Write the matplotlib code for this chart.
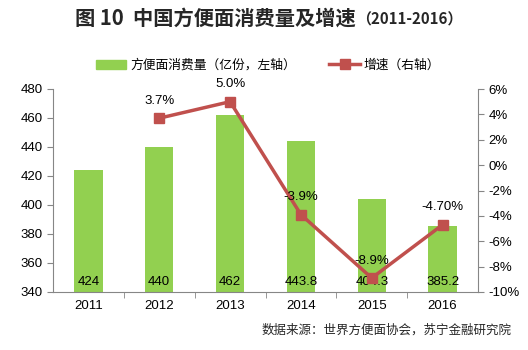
import matplotlib
matplotlib.use("Agg")
import matplotlib.pyplot as plt
from matplotlib.lines import Line2D
from matplotlib.patches import Patch

plt.rcParams['font.family'] = ['Noto Sans CJK SC', 'DejaVu Sans']

years = ["2011", "2012", "2013", "2014", "2015", "2016"]
consumption = [424, 440, 462, 443.8, 404.3, 385.2]
consumption_labels = ["424", "440", "462", "443.8", "404.3", "385.2"]
growth_years = ["2012", "2013", "2014", "2015", "2016"]
growth = [3.7, 5.0, -3.9, -8.9, -4.7]
growth_labels = ["3.7%", "5.0%", "-3.9%", "-8.9%", "-4.70%"]

green = "#92D050"
red = "#C0504D"
axcol = "#868686"

fig = plt.figure(figsize=(5.28, 3.5), dpi=100)
ax = fig.add_axes([53/528, 1-292/350, (478-53)/528, (292-89)/350])
x = list(range(len(years)))
ax.bar(x, [c - 340 for c in consumption], bottom=340, width=0.4, color=green, zorder=1)
ax.set_xlim(-0.5, len(years)-0.5)
ax.set_ylim(340, 480)
ax.set_yticks(range(340, 481, 20))
ax.set_xticks(x)
ax.set_xticklabels(years, fontsize=9.5, family=['Liberation Sans', 'DejaVu Sans'])
ax.tick_params(axis='y', labelsize=9.5, colors='#000000', length=4, color=axcol, direction='out')
for lab in ax.get_yticklabels():
    lab.set_family(['Liberation Sans', 'DejaVu Sans'])
ax.set_xticks([i + 0.5 for i in x[:-1]], minor=True)
ax.tick_params(axis='x', which='major', length=0, pad=6)
ax.tick_params(axis='x', which='minor', length=4, color=axcol, direction='out')
for s in ['top', 'right']:
    ax.spines[s].set_visible(False)
for s in ['left', 'bottom']:
    ax.spines[s].set_color(axcol)

for i, lab in enumerate(consumption_labels):
    ax.text(i, 343, lab, ha='center', va='bottom', fontsize=9.5,
            family=['Liberation Sans', 'DejaVu Sans'], zorder=5)

ax2 = ax.twinx()
gx = [years.index(y) for y in growth_years]
ax2.plot(gx, growth, color=red, lw=2.5, marker='s', markersize=7.5, zorder=3)
ax2.set_ylim(-10, 6)
ax2.set_yticks(range(-10, 7, 2))
ax2.set_yticklabels([f"{v}%" for v in range(-10, 7, 2)], family=['Liberation Sans', 'DejaVu Sans'])
ax2.tick_params(axis='y', labelsize=9.5, length=4, color=axcol, direction='out')
for s in ['top', 'left', 'bottom']:
    ax2.spines[s].set_visible(False)
ax2.spines['right'].set_color(axcol)
for xi, v, lab in zip(gx, growth, growth_labels):
    ax2.text(xi, v + 0.9, lab, ha='center', va='bottom', fontsize=9.5,
             family=['Liberation Sans', 'DejaVu Sans'], zorder=6)

# title
fig.text(356/528, 1-18/350, "图 10  中国方便面消费量及增速", ha='right', va='center',
         fontsize=14.6, fontweight='bold', color='#262626')
fig.text(356/528, 1-19/350, "（2011-2016）", ha='left', va='center',
         fontsize=10.8, fontweight='bold', color='#262626')

# legend
handles = [Patch(color=green), Line2D([0], [0], color=red, lw=2.5, marker='s', markersize=7.5)]
fig.legend(handles, ["方便面消费量（亿份，左轴）", "增速（右轴）"], loc='center',
           bbox_to_anchor=(268/528, 1-65/350), ncol=2, frameon=False, fontsize=9.2,
           handlelength=2.4, columnspacing=2.6, handletextpad=0.3)

fig.text(512/528, 1-330/350, "数据来源：世界方便面协会，苏宁金融研究院", ha='right', va='center',
         fontsize=9, style='italic', color='#262626')

fig.savefig("out.png", dpi=100)
